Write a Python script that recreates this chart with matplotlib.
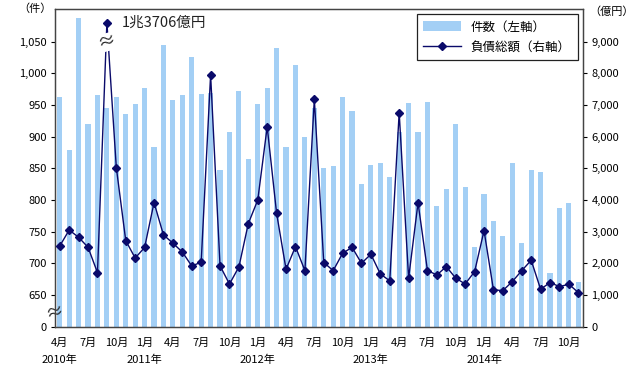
import matplotlib
matplotlib.use("Agg")
import matplotlib.pyplot as plt
import numpy as np

plt.rcParams['font.family'] = ['Noto Sans CJK JP', 'DejaVu Sans']

# monthly data, Apr 2010 .. Nov 2014
counts = [963, 879, 1087, 920, 965, 945, 962, 936, 951, 977, 884, 1044,
          958, 965, 1026, 967, 969, 848, 907, 972, 865, 952, 977, 1040,
          884, 1013, 899, 945, 851, 853, 963, 940, 825, 855, 859, 837,
          908, 953, 907, 954, 790, 817, 920, 821, 726, 810, 767, 744,
          859, 733, 848, 844, 685, 787, 796, 671]
debt = [2550, 3055, 2825, 2510, 1710, 13706, 5020, 2720, 2170, 2505, 3920, 2900,
        2640, 2360, 1920, 2040, 7950, 1925, 1350, 1890, 3260, 4000, 6310, 3580,
        1817, 2530, 1774, 7180, 2030, 1774, 2320, 2510, 2006, 2290, 1670, 1450,
        6760, 1534, 3916, 1774, 1638, 1900, 1534, 1354, 1743, 3034, 1166, 1145,
        1428, 1774, 2100, 1187, 1397, 1270, 1344, 1082]

month_labels = ['4月', '7月', '10月', '1月', '4月', '7月', '10月', '1月', '4月', '7月',
                '10月', '1月', '4月', '7月', '10月', '1月', '4月', '7月', '10月']
year_labels = ['2010年', '2011年', '2012年', '2013年', '2014年']
year_pos = [0, 9, 21, 33, 45]

left_ticks = [600, 650, 700, 750, 800, 850, 900, 950, 1000, 1050]
left_ticklabels = ['0', '650', '700', '750', '800', '850', '900', '950', '1,000', '1,050']
right_ticks = [0, 1000, 2000, 3000, 4000, 5000, 6000, 7000, 8000, 9000]

peak_label = '1兆3706億円'
DISPLAY_CAP = 9600  # broken scale for the off-chart peak

bar_color = '#a3cff5'
line_color = '#0a0a6a'

x = np.arange(len(counts))

fig = plt.figure(figsize=(6.4, 3.71), dpi=100)
ax = fig.add_axes([0.086, 0.119, 0.825, 0.857])

ax.bar(x, counts, width=0.55, color=bar_color, zorder=2, label='件数（左軸）')
ax.set_xlim(-0.5, len(counts) - 0.5)
ax.set_ylim(600, 1101.5)
ax.set_yticks(left_ticks)
ax.set_yticklabels(left_ticklabels, fontsize=8)
ax.set_xticks(x[::3])
ax.set_xticklabels(month_labels, fontsize=8)
ax.tick_params(axis='x', length=0, pad=8)
ax.tick_params(axis='y', length=3, direction='out', pad=3)
for s in ax.spines.values():
    s.set_color('#444444')
    s.set_linewidth(0.9)

for pos, lab in zip(year_pos, year_labels):
    ax.text(pos, -0.104, lab, transform=ax.get_xaxis_transform(),
            ha='center', va='center', fontsize=8)

ax2 = ax.twinx()
shown = np.minimum(debt, DISPLAY_CAP)
ax2.plot(x, shown, color=line_color, lw=1.0, marker='D', markersize=4.5,
         markerfacecolor=line_color, markeredgecolor=line_color, zorder=3,
         label='負債総額（右軸）')
ax2.set_ylim(0, 10030)
ax2.set_yticks(right_ticks)
ax2.set_yticklabels([f'{v:,}' for v in right_ticks], fontsize=8)
ax2.tick_params(axis='y', length=3, direction='out', pad=3)
for s in ax2.spines.values():
    s.set_color('#444444')
    s.set_linewidth(0.9)

# break marks
ipk = int(np.argmax(debt))
ax2.text(ipk, 8980, '≈', ha='center', va='center', fontsize=13, color='#222222',
         rotation=15, zorder=4,
         bbox=dict(boxstyle='square,pad=0', fc='white', ec='none'))
ax.text(0, 622, '≈', transform=ax.get_yaxis_transform(), ha='center', va='center',
        fontsize=13, color='#222222', rotation=15, clip_on=False, zorder=5)
ax2.text(ipk + 1.6, shown[ipk], peak_label, ha='left', va='center', fontsize=10.5,
         color='#222222')

fig.text(0.055, 0.978, '（件）', ha='center', va='center', fontsize=8)
fig.text(0.955, 0.968, '（億円）', ha='center', va='center', fontsize=8)

h1, l1 = ax.get_legend_handles_labels()
h2, l2 = ax2.get_legend_handles_labels()
leg = ax2.legend(h1 + h2, l1 + l2, loc='upper right', bbox_to_anchor=(0.99, 0.985),
                 borderaxespad=0, fontsize=9, fancybox=False, framealpha=1,
                 edgecolor='#222222', handlelength=3.0, handleheight=0.9,
                 borderpad=0.55, labelspacing=0.55)
leg.get_frame().set_linewidth(0.9)

fig.savefig('out.png', dpi=100)
